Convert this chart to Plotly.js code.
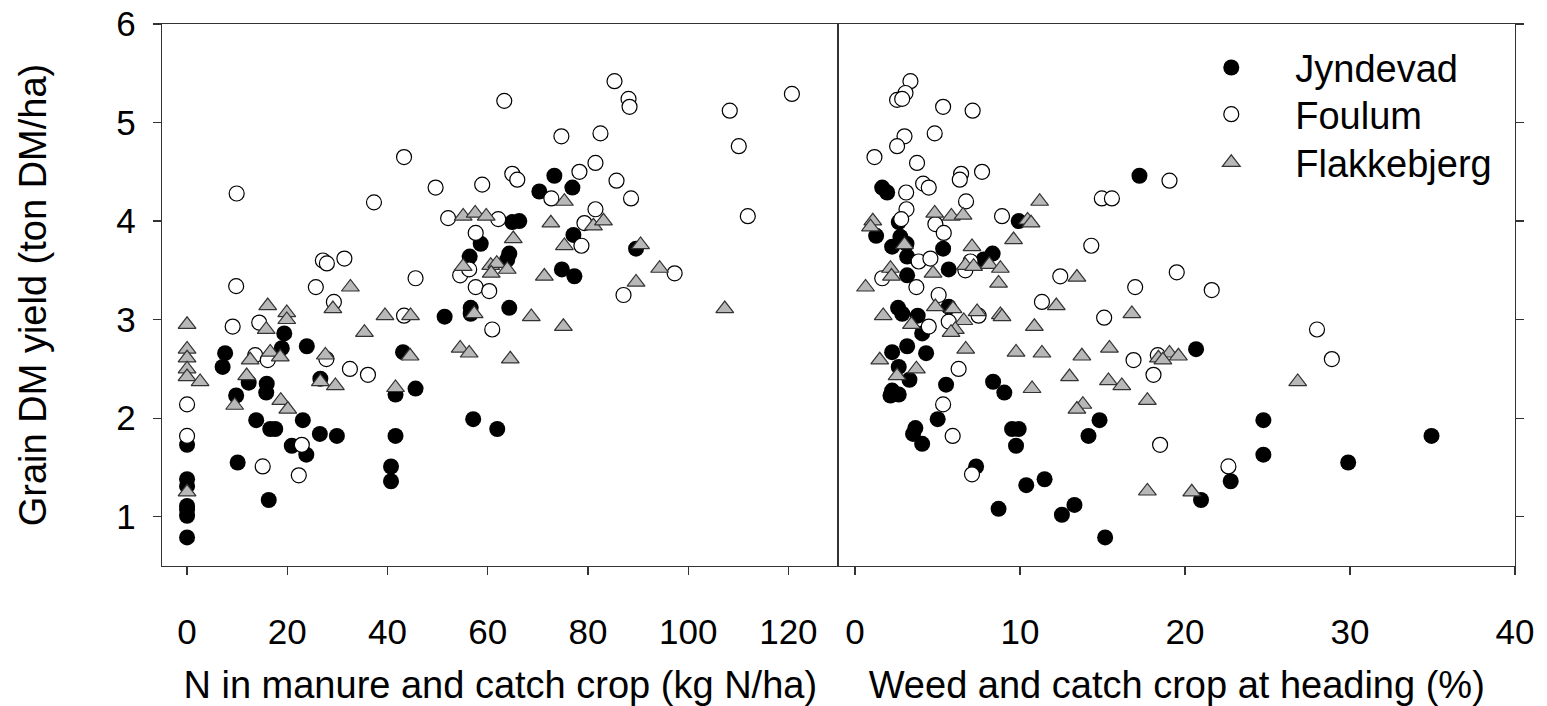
<!DOCTYPE html>
<html>
<head>
<meta charset="utf-8">
<script src="https://cdn.plot.ly/plotly-3.0.1.min.js"></script>
<style>html,body{margin:0;padding:0;background:#fff;}#chart{width:1547px;height:706px;}</style>
</head>
<body>
<div id="chart"></div>
<script>
// ---------- DATA ----------
const seriesNames = ["Jyndevad", "Foulum", "Flakkebjerg"];

// Left panel: N in manure and catch crop (kg N/ha) vs grain DM yield (ton DM/ha)
const leftJyndevadN = [0,0,0,0,0,0,0,7.6,7.1,10.1,9.8,12.3,13.8,15.9,15.8,16.6,17.6,16.3,19.4,18.9,20.9,23.1,23.8,23.9,26.6,26.5,29.9,40.7,40.7,41.6,41.6,43.1,45.6,51.4,56.6,56.6,57.1,56.4,58.6,61.9,63.9,64.3,64.3,64.9,66.3,70.3,73.3,74.8,76.9,77.1,77.3,89.6];
const leftJyndevadYield = [1.38,1.31,1.11,1.07,1.01,0.79,1.73,2.66,2.52,1.55,2.23,2.36,1.98,2.35,2.26,1.89,1.89,1.17,2.86,2.71,1.72,1.98,1.63,2.73,2.40,1.84,1.82,1.51,1.36,2.24,1.82,2.67,2.30,3.03,3.12,3.06,1.99,3.64,3.77,1.89,3.61,3.67,3.12,3.99,4.00,4.30,4.46,3.51,4.34,3.86,3.44,3.72];

const leftFoulumN = [0,0,9.1,9.8,9.9,14.4,13.6,16.1,15.1,22.3,22.9,25.7,27.1,27.9,27.8,29.3,31.4,32.5,36.1,37.3,43.3,43.3,45.6,49.6,52.1,54.5,56.3,57.6,57.6,58.9,60.3,60.9,62.1,63.3,64.9,65.9,72.7,74.7,78.3,78.7,79.3,81.5,81.5,82.5,85.3,85.7,87.1,88.1,88.3,88.6,97.3,108.3,110.1,111.9,120.7];
const leftFoulumYield = [2.14,1.82,2.93,3.34,4.28,2.97,2.64,2.59,1.51,1.42,1.73,3.33,3.60,3.57,2.60,3.18,3.62,2.50,2.44,4.19,4.65,3.04,3.42,4.34,4.03,3.45,3.51,3.88,3.33,4.37,3.29,2.90,4.02,5.22,4.48,4.42,4.23,4.86,4.50,3.75,3.98,4.59,4.12,4.89,5.42,4.41,3.25,5.24,5.16,4.23,3.47,5.12,4.76,4.05,5.29];

const leftFlakkebjergN = [0,0,0,0,0,0,2.6,9.5,11.9,12.6,15.8,16.1,16.6,18.6,18.7,19.9,19.9,20.1,27.6,26.6,29.1,29.6,32.6,35.4,39.5,41.6,44.6,44.5,54.5,55.1,55.1,56.3,57.3,57.5,59.7,60.6,61.8,60.7,63.9,64.5,65.1,68.7,71.3,72.6,75.1,75.3,75.3,81.1,83.1,89.6,90.5,94.3,107.3];
const leftFlakkebjergYield = [2.95,2.70,2.61,2.50,2.42,1.25,2.37,2.13,2.43,2.59,2.90,3.14,2.67,2.62,2.18,3.07,3.00,2.09,2.64,2.37,3.11,2.33,3.33,2.87,3.04,2.31,3.04,2.63,2.71,3.54,4.05,2.66,3.06,4.08,4.05,3.55,3.57,3.47,3.51,2.60,3.82,3.03,3.44,3.98,2.93,4.20,3.75,3.95,4.00,3.38,3.76,3.52,3.11];

// Right panel: weed and catch crop at heading (%) vs grain DM yield (ton DM/ha)
const rightJyndevadWeed = [1.65,1.95,2.65,1.28,2.75,3.12,2.25,3.16,3.16,5.34,8.34,7.80,5.68,5.68,2.61,2.86,3.8,4.07,2.25,3.16,4.31,2.65,3.3,2.25,2.65,2.15,5.52,8.37,9.05,5.01,3.66,3.52,4.07,9.52,9.92,9.76,7.34,10.38,11.49,8.70,13.3,12.54,15.16,14.82,14.15,9.92,17.24,20.67,24.75,24.75,22.77,20.97,29.89,34.94];
const rightJyndevadYield = [4.34,4.29,3.99,3.85,3.84,3.77,3.74,3.64,3.45,3.72,3.67,3.61,3.51,3.13,3.12,3.06,3.04,2.86,2.67,2.73,2.66,2.52,2.39,2.28,2.24,2.23,2.34,2.37,2.26,1.99,1.90,1.84,1.74,1.89,1.89,1.72,1.51,1.32,1.38,1.08,1.12,1.02,0.79,1.98,1.82,4.00,4.46,2.70,1.98,1.63,1.36,1.17,1.55,1.82];

const rightFoulumWeed = [3.36,3.06,2.55,2.86,5.34,7.13,4.83,3.0,2.55,1.18,3.76,6.43,6.35,7.70,4.13,4.47,19.06,3.1,14.96,15.57,6.73,3.12,2.80,8.91,4.87,5.38,14.32,3.86,4.57,6.69,7.0,1.65,12.44,19.5,16.98,3.72,5.07,11.33,15.1,4.47,5.68,7.49,6.28,16.88,18.35,18.09,5.34,18.49,5.92,7.09,28.0,28.9,22.63,21.62];
const rightFoulumYield = [5.42,5.30,5.23,5.24,5.16,5.12,4.89,4.86,4.76,4.65,4.59,4.48,4.42,4.50,4.38,4.34,4.41,4.29,4.23,4.23,4.20,4.12,4.02,4.05,3.97,3.88,3.75,3.59,3.62,3.50,3.59,3.42,3.44,3.48,3.33,3.33,3.25,3.18,3.02,2.93,2.98,3.04,2.50,2.59,2.64,2.44,2.14,1.73,1.82,1.43,2.90,2.60,1.51,3.30];

const rightFlakkebjergWeed = [11.19,1.08,0.94,4.83,5.84,6.55,10.46,10.67,3.0,9.61,7.09,6.69,7.19,8.14,8.81,2.15,2.21,4.73,8.70,13.45,0.64,12.2,16.78,1.71,4.87,5.94,7.40,8.81,8.91,3.42,6.59,6.08,5.82,10.87,1.5,6.71,3.72,2.55,9.76,11.33,13.75,15.42,18.39,19.06,19.6,18.66,13.0,15.36,16.17,10.73,13.81,13.45,17.72,17.72,20.41,26.83];
const rightFlakkebjergYield = [4.20,4.00,3.94,4.08,4.05,4.06,4.01,3.98,3.76,3.81,3.74,3.55,3.54,3.56,3.52,3.52,3.44,3.47,3.37,3.43,3.33,3.14,3.06,3.04,3.13,3.11,3.08,3.05,3.03,2.95,2.99,2.90,2.87,2.93,2.59,2.70,2.50,2.43,2.67,2.66,2.63,2.71,2.61,2.66,2.63,2.59,2.42,2.38,2.33,2.30,2.14,2.09,2.18,1.26,1.25,2.37];

const leftTickVals = [0, 20, 40, 60, 80, 100, 120];
const rightTickVals = [0, 10, 20, 30, 40];
const yTickVals = [1, 2, 3, 4, 5, 6];
const leftXTitle = "N in manure and catch crop (kg N/ha)";
const rightXTitle = "Weed and catch crop at heading (%)";
const yTitle = "Grain DM yield (ton DM/ha)";

// ---------- STYLE ----------
const FONT = "Liberation Sans, Arial, Helvetica, sans-serif";
const markerStyles = [
  {symbol: "circle", size: 16, color: "#000000", line: {color: "#000000", width: 0}},
  {symbol: "circle", size: 15, color: "#ffffff", line: {color: "#000000", width: 1.2}},
  {symbol: "triangle-up", size: 15.5, color: "#b8b8b8", line: {color: "#333333", width: 1.2}}
];
const legendIds = ["legend", "legend2", "legend3"];
const legendY = [0.9773, 0.8911, 0.8020];

const leftX = [leftJyndevadN, leftFoulumN, leftFlakkebjergN];
const leftY = [leftJyndevadYield, leftFoulumYield, leftFlakkebjergYield];
const rightX = [rightJyndevadWeed, rightFoulumWeed, rightFlakkebjergWeed];
const rightY = [rightJyndevadYield, rightFoulumYield, rightFlakkebjergYield];

const traces = [];
seriesNames.forEach((name, i) => {
  traces.push({
    type: "scatter", mode: "markers", name: name, legendgroup: name, legend: legendIds[i],
    x: leftX[i], y: leftY[i], xaxis: "x", yaxis: "y",
    marker: markerStyles[i], showlegend: true, hoverinfo: "x+y+name"
  });
});
seriesNames.forEach((name, i) => {
  traces.push({
    type: "scatter", mode: "markers", name: name, legendgroup: name,
    x: rightX[i], y: rightY[i], xaxis: "x2", yaxis: "y2",
    marker: markerStyles[i], showlegend: false, hoverinfo: "x+y+name"
  });
});

const axisCommon = {
  ticks: "outside", ticklen: 8, tickwidth: 1.3, tickcolor: "#333",
  showline: true, linecolor: "#333", linewidth: 1.4,
  showgrid: false, zeroline: false,
  tickfont: {family: FONT, size: 35, color: "#000"}
};

function legendCfg(y) {
  return {
    x: 0.743, y: y, xanchor: "left", yanchor: "top",
    bgcolor: "rgba(0,0,0,0)", borderwidth: 0,
    font: {family: FONT, size: 38, color: "#000"},
    itemwidth: 118, tracegroupgap: 0
  };
}

const layout = {
  width: 1547, height: 706,
  margin: {l: 162, r: 32, t: 24, b: 140},
  paper_bgcolor: "#ffffff", plot_bgcolor: "#ffffff",
  font: {family: FONT, color: "#000"},
  showlegend: true,
  legend: legendCfg(legendY[0]),
  legend2: legendCfg(legendY[1]),
  legend3: legendCfg(legendY[2]),
  xaxis: Object.assign({}, axisCommon, {
    domain: [0, 0.5], range: [-5, 130], tickvals: leftTickVals, anchor: "y",
    mirror: true, ticklabelstandoff: 27,
    title: {text: leftXTitle, font: {family: FONT, size: 38, color: "#000"}, standoff: 25}
  }),
  xaxis2: Object.assign({}, axisCommon, {
    domain: [0.5, 1], range: [-1, 40], tickvals: rightTickVals, anchor: "y2",
    mirror: true, ticklabelstandoff: 27,
    title: {text: rightXTitle, font: {family: FONT, size: 38, color: "#000"}, standoff: 25}
  }),
  yaxis: Object.assign({}, axisCommon, {
    range: [0.5, 6], tickvals: yTickVals, anchor: "x", mirror: false,
    ticklabelstandoff: 10,
    title: {text: yTitle, font: {family: FONT, size: 38, color: "#000"}, standoff: 58}
  }),
  yaxis2: Object.assign({}, axisCommon, {
    range: [0.5, 6], tickvals: yTickVals, anchor: "x2", side: "right",
    mirror: true, showticklabels: false
  })
};

Plotly.newPlot("chart", traces, layout, {displayModeBar: false, staticPlot: true});
</script>
</body>
</html>
